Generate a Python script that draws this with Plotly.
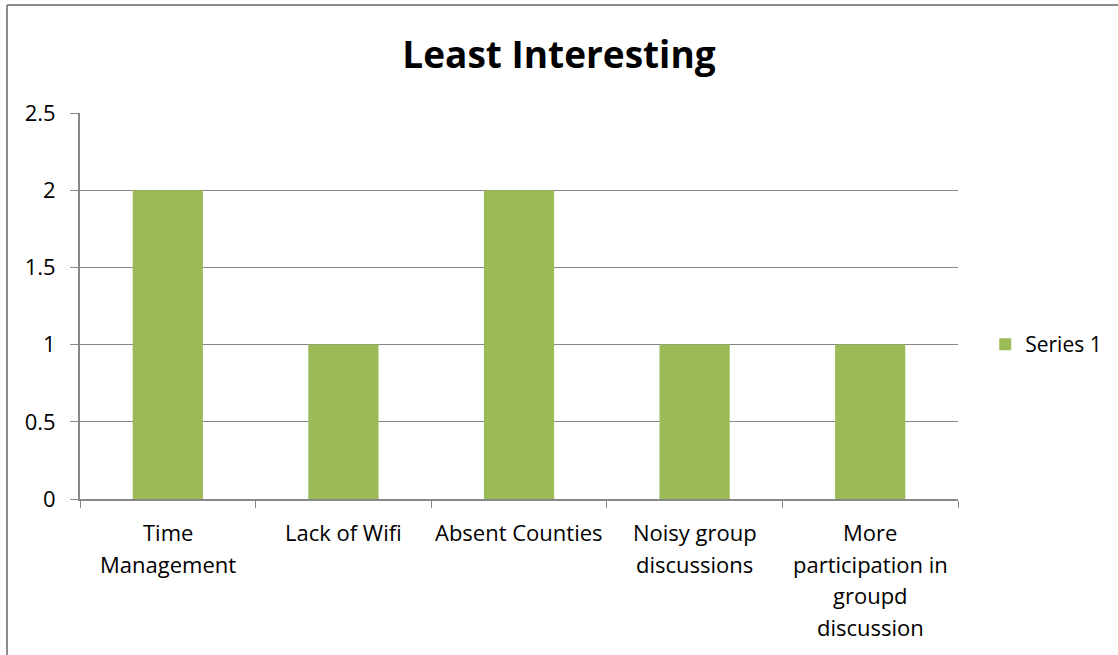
import plotly.graph_objects as go

categories = ["Time Management", "Lack of Wifi", "Absent Counties",
              "Noisy group discussions", "More participation in groupd discussion"]
label_lines = [["Time", "Management"], ["Lack of Wifi"], ["Absent Counties"],
               ["Noisy group", "discussions"], ["More", "participation in", "groupd", "discussion"]]
values = [2, 1, 2, 1, 1]
y_ticks = [0, 0.5, 1, 1.5, 2, 2.5]
y_tick_text = ["0", "0.5", "1", "1.5", "2", "2.5"]

FONT = "Open Sans, sans-serif"
GRID = "#878787"
GREEN = "#9BBB59"

fig = go.Figure()
fig.add_trace(go.Bar(x=categories, y=values, name="Series 1",
                     marker=dict(color=GREEN, line=dict(width=0)), width=0.4))

# multi-line category labels under the axis
annotations = []
for cat, lines in zip(categories, label_lines):
    for i, line in enumerate(lines):
        annotations.append(dict(x=cat, xref="x", y=0, yref="paper", text=line,
                                showarrow=False, yanchor="middle", xanchor="center",
                                yshift=-33 - 31.7 * i,
                                font=dict(family=FONT, size=22, color="#000")))

# chart-area frame
frame_x = -73 / 878
frame_y = 494 / 386
shapes = [
    dict(type="line", xref="paper", yref="paper", x0=frame_x, x1=frame_x, y0=-2, y1=frame_y,
         line=dict(color="#8c8c8c", width=2)),
    dict(type="line", xref="paper", yref="paper", x0=frame_x, x1=2, y0=frame_y, y1=frame_y,
         line=dict(color="#8c8c8c", width=2)),
]

fig.update_layout(
    width=1118, height=655,
    margin=dict(l=80, r=160, t=113, b=156, autoexpand=False),
    paper_bgcolor="white", plot_bgcolor="white",
    font=dict(family=FONT, size=22, color="#000"),
    title=dict(text="<b>Least Interesting</b>", x=0.5, xanchor="center",
               y=1 - 55 / 655, yanchor="middle",
               font=dict(family=FONT, size=37, color="#000")),
    showlegend=True,
    legend=dict(x=1.031, y=0.40, xanchor="left", yanchor="middle",
                font=dict(family=FONT, size=21, color="#000"),
                bgcolor="rgba(0,0,0,0)", itemwidth=30),
    bargap=0.6,
    annotations=annotations,
    shapes=shapes,
    xaxis=dict(type="category", showticklabels=False, ticks="outside", tickson="boundaries",
               ticklen=7, tickcolor=GRID, showline=True, linecolor=GRID, linewidth=2,
               showgrid=False, zeroline=False),
    yaxis=dict(range=[0, 2.5], tickvals=y_ticks, ticktext=y_tick_text,
               ticks="outside", ticklen=8, tickcolor=GRID, showline=True, linecolor=GRID,
               linewidth=2, showgrid=True, gridcolor=GRID, gridwidth=1, zeroline=False,
               ticklabelstandoff=10, tickfont=dict(family=FONT, size=22, color="#000")),
)

fig.write_html("out.html")
